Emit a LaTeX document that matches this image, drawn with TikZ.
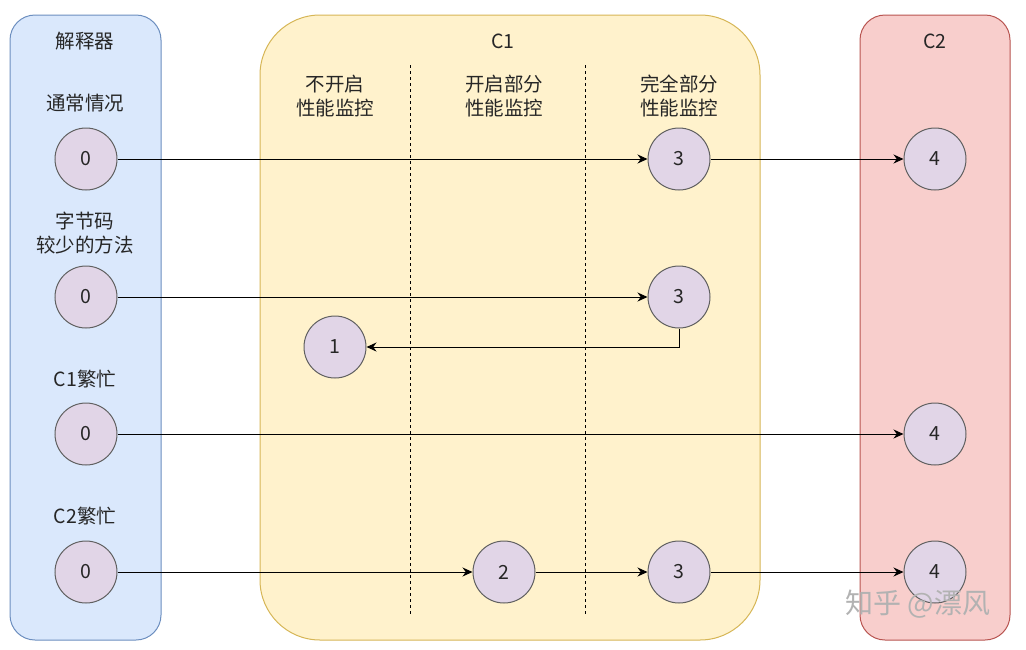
\documentclass[tikz,border=0pt]{standalone}
\usepackage{fontspec}
\setmainfont{Noto Sans CJK SC}
\usepackage{tikz}
\usetikzlibrary{arrows.meta, positioning, calc}
\usepackage{xcolor}
\definecolor{interpfill}{HTML}{DAE8FC}
\definecolor{interpline}{HTML}{6C8EBF}
\definecolor{cAfill}{HTML}{FFF2CC}
\definecolor{cAline}{HTML}{D6B656}
\definecolor{cBfill}{HTML}{F8CECC}
\definecolor{cBline}{HTML}{B85450}
\definecolor{levelfill}{HTML}{E1D5E7}
\definecolor{levelline}{HTML}{606060}

\begin{document}
\begin{tikzpicture}[x=1pt, y=-1pt,
  every node/.style={font=\fontsize{19.5}{24}\selectfont, text=black!85},
  level/.style={circle, draw=levelline, line width=1pt, fill=levelfill, minimum size=62pt, inner sep=0pt},
  lbl/.style={align=center},
  jump/.style={-{Stealth[length=10pt, width=9pt]}, black, line width=0.9pt}]
  \useasboundingbox (0,0) rectangle (1026,649);
  % three stages
  \draw[interpline, line width=1pt, fill=interpfill, rounded corners=25pt] (10,15) rectangle (161,640);
  \draw[cAline, line width=1pt, fill=cAfill, rounded corners=60pt] (260,15) rectangle (760,640);
  \draw[cBline, line width=1pt, fill=cBfill, rounded corners=25pt] (860,15) rectangle (1010,640);
  \node (interp) at (85,41) {解释器};
  \node (cA) at (503,41) {C1};
  \node (cB) at (935,41) {C2};
  \draw[dashed, thick] (410,65) -- (410,615);
  \draw[dashed, thick] (585,65) -- (585,615);
  \node[lbl] (noprof) at (335,96) {不开启\\性能监控};
  \node[lbl] (partprof) at (504,96) {开启部分\\性能监控};
  \node[lbl] (fullprof) at (679,96) {完全部分\\性能监控};
  % cases
  \node (normal) at (85,103) {通常情况};
  \node[lbl] (trivial) at (85,233) {字节码\\较少的方法};
  \node (busyA) at (85,379) {C1繁忙};
  \node (busyB) at (85,516) {C2繁忙};
  % row 1
  \node[level] (a0) at (86,159) {0};
  \node[level] (a3) at (679,159) {3};
  \node[level] (a4) at (935,159) {4};
  \draw[jump] (a0) -- (a3);
  \draw[jump] (a3) -- (a4);
  % row 2
  \node[level] (b0) at (86,297) {0};
  \node[level] (b3) at (679,297) {3};
  \node[level] (b1) at (335,347) {1};
  \draw[jump] (b0) -- (b3);
  \draw[jump] (b3.south) |- (b1.east);
  % row 3
  \node[level] (c0) at (86,434) {0};
  \node[level] (c4) at (935,434) {4};
  \draw[jump] (c0) -- (c4);
  % row 4
  \node[level] (d0) at (86,572) {0};
  \node[level] (d2) at (504,572) {2};
  \node[level] (d3) at (679,572) {3};
  \node[level] (d4) at (935,572) {4};
  \draw[jump] (d0) -- (d2);
  \draw[jump] (d2) -- (d3);
  \draw[jump] (d3) -- (d4);
  % watermark
  \node[font=\fontsize{28}{32}\selectfont, text=black!30] (mark) at (918,604) {知乎 @漂风};
\end{tikzpicture}
\end{document}
